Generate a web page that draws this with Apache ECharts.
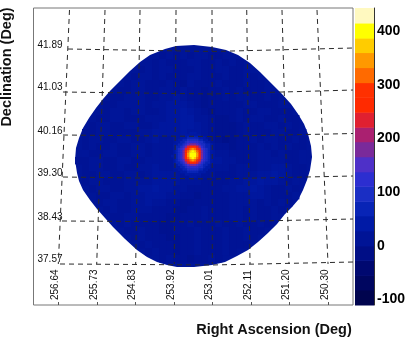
<!DOCTYPE html>
<html>
<head>
<meta charset="utf-8">
<title>Sky map</title>
<style>
html,body{margin:0;padding:0;background:#fff}
#main{width:409px;height:339px;filter:blur(0.5px)}
</style>
<script src="https://cdn.jsdelivr.net/npm/echarts@6/dist/echarts.min.js"></script>
</head>
<body>
<div id="main"></div>
<script>
// colour scale, bottom to top
var bandEdges = [-110,-82,-55,-27,0,28,56,83,111,138,166,194,221,249,277,304,332,360,387,415,443];
var bandColors = ['#00044e','#000660','#000870','#000e86','#001496','#001aa6','#0824b6','#1a2ec4','#2c2ed0','#4e30c8',
	'#7a2a9a','#aa2070','#e02030','#ff2a00','#ff3000','#ff6a00','#ff9900','#ffcc00','#ffff00','#fff9c0'];
var colorTicks = [-100,0,100,200,300,400];

var raTicks = [256.64,255.73,254.83,253.92,253.01,252.11,251.20,250.30];
var decTicks = [41.89,41.03,40.16,39.30,38.43,37.57];

// edge of the exposure region
var discRa = [253.450,253.027,252.698,252.416,252.134,251.899,251.664,251.382,251.170,251.005,250.864,250.770,250.700,250.676,
	250.723,250.794,250.888,251.005,251.146,251.311,251.499,251.711,251.946,252.181,252.439,252.721,253.027,253.450,
	253.850,254.085,254.320,254.555,254.790,255.072,255.354,255.542,255.730,255.895,256.059,256.153,256.200,256.247,
	256.224,256.153,256.059,255.918,255.754,255.589,255.425,255.190,254.955,254.719,254.484,254.132,253.873];
var discDec = [41.971,41.931,41.870,41.769,41.608,41.427,41.226,40.984,40.782,40.581,40.380,40.178,39.937,39.715,
	39.453,39.252,39.050,38.849,38.708,38.567,38.366,38.184,38.003,37.842,37.721,37.600,37.540,37.499,
	37.499,37.540,37.600,37.701,37.842,38.063,38.305,38.486,38.668,38.849,39.050,39.232,39.393,39.655,
	39.896,40.098,40.299,40.500,40.702,40.883,41.044,41.246,41.447,41.628,41.769,41.890,41.951];

// graticule, as drawn (slightly tilted)
var gridRaLines = [
	[[256.377,42.676],[256.640,37.560]],
	[[255.542,42.676],[255.737,37.560]],
	[[254.719,42.676],[254.821,37.560]],
	[[253.873,42.676],[253.913,37.560]],
	[[253.027,42.676],[253.020,37.560]],
	[[252.211,42.676],[252.134,37.560]],
	[[251.382,42.676],[251.217,37.560]],
	[[250.559,42.676],[250.300,37.560]]
];
var gridDecLines = [
	[[256.412,41.890],[253.027,41.840],[249.713,41.910]],
	[[256.530,41.024],[253.027,40.984],[249.713,41.064]],
	[[256.530,40.158],[253.027,40.128],[249.713,40.188]],
	[[256.530,39.312],[253.027,39.272],[249.713,39.332]],
	[[256.553,38.426],[253.027,38.406],[249.713,38.466]],
	[[256.600,37.560],[253.027,37.540],[249.713,37.600]]
];

// background excess, one digit per cell (value = 8*digit-20)
var bgStartRa = 256.247, bgStepRa = 0.16455, bgStartDec = 41.971, bgStepDec = 0.14099;
var bgRows = [
	"",
	"............454545544",
	"...........4544455445454",
	".........4545544454455445",
	"........455454445544454454",
	".......45544454354445444544",
	"......4455445545443445454445",
	".....445554455654434454554454",
	"....44555545566654344444554445",
	"....455455445667654344454455444",
	"...44554445556677554334545544544",
	"..455445544566677654333454455454",
	".44554444556666766543334544455445",
	".45544554456556665543234454554454",
	".45445445545555665554434445454544",
	".54455445545555566665544445545445",
	"445544554455555666666554445555445",
	".45544544556556566655545545566544",
	".44554455456666556554445556676544",
	".4554445555666655544445566766545",
	"..455445566766554444455667654454",
	"...44554556665544344445556654445",
	"...4554455655443344444555545454",
	"....45445554443344544455454454",
	".....445544443344454445545445",
	"......4544443344544454454454",
	".......44544334445444544544",
	"........454443344544454454",
	".........4544434454445444",
	"..........4544344544454",
	"............454434454"
];

// bright source, one band index per cell (base 20), dots keep the background
var spotStartRa = 254.047, spotStepRa = 0.054, spotStartDec = 40.221, spotStepDec = 0.046;
var spotRows = [
	".........555.........",
	".......5555555.......",
	".....55566666555.....",
	"....5566777776655....",
	"...556678888877655...",
	"..5566789aaa9877665..",
	"..56678acdddca87665..",
	"..56789cefgfec98765..",
	"..5678adfhihfda8765..",
	"..5678adgiiigda8765..",
	".55678adgiiigda8765..",
	"..5678adfhihfda8765..",
	"..56789cefgfec98765..",
	"..56678acdddca87665..",
	"...566789aaa987665...",
	"...556678888877655...",
	"....5566777776655....",
	".....55566666555.....",
	".......5555555.......",
	".........555........."
];

function mix(a, b, t) {
	var pa = parseInt(a.slice(1), 16), pb = parseInt(b.slice(1), 16);
	var out = [16, 8, 0].map(function (s) {
		var x = (pa >> s) & 255, y = (pb >> s) & 255;
		return Math.round(x + (y - x) * t);
	});
	return 'rgb(' + out.join(',') + ')';
}
function valueColor(v) {
	var k = (v - bandEdges[0]) / (bandEdges[20] - bandEdges[0]) * 20 - 0.5;
	k = Math.max(0, Math.min(19, k));
	var lo = Math.floor(k), hi = Math.min(19, lo + 1);
	return mix(bandColors[lo], bandColors[hi], k - lo);
}

var bgCells = [];
bgRows.forEach(function (row, r) {
	for (var c = 0; c < row.length; c++) {
		if (row[c] === '.') continue;
		var ra = bgStartRa - c * bgStepRa, dec = bgStartDec - r * bgStepDec;
		bgCells.push([ra, dec, ra - bgStepRa, dec - bgStepDec, 8 * parseInt(row[c], 10) - 20]);
	}
});
var spotCells = [];
spotRows.forEach(function (row, r) {
	for (var c = 0; c < row.length; c++) {
		if (row[c] === '.') continue;
		var k = parseInt(row[c], 20);
		var ra = spotStartRa - c * spotStepRa, dec = spotStartDec - r * spotStepDec;
		spotCells.push([ra, dec, ra - spotStepRa, dec - spotStepDec, (bandEdges[k] + bandEdges[k + 1]) / 2]);
	}
});
var barCells = bandEdges.slice(0, 20).map(function (lo, i) {
	return [0, bandEdges[i + 1], 1, lo, (lo + bandEdges[i + 1]) / 2, i];
});

function cellItem(params, api) {
	var a = api.coord([api.value(0), api.value(1)]);
	var b = api.coord([api.value(2), api.value(3)]);
	return {
		type: 'rect',
		shape: {x: Math.min(a[0], b[0]), y: Math.min(a[1], b[1]), width: Math.abs(b[0] - a[0]) + 0.4, height: Math.abs(b[1] - a[1]) + 0.4},
		style: {fill: valueColor(api.value(4))}
	};
}
function barItem(params, api) {
	var a = api.coord([0, api.value(1)]);
	var b = api.coord([1, api.value(3)]);
	return {
		type: 'rect',
		shape: {x: a[0], y: a[1], width: b[0] - a[0], height: b[1] - a[1] + 0.5},
		style: {fill: bandColors[api.value(5)]}
	};
}
function discItem(params, api) {
	var pts = discRa.map(function (ra, i) { return api.coord([ra, discDec[i]]); });
	return {type: 'polygon', shape: {points: pts}, style: {fill: valueColor(18)}};
}

var lineSeries = gridRaLines.concat(gridDecLines).map(function (pts) {
	return {
		type: 'line', data: pts, symbol: 'none', silent: true, z: 5,
		lineStyle: {color: '#2a2a2a', width: 1, type: [5, 4]}
	};
});

var labelFont = '"Liberation Sans", Arial, sans-serif';
var myChart = echarts.init(document.getElementById('main'), null, {renderer: 'canvas'});
myChart.setOption({
	animation: false,
	backgroundColor: '#fff',
	tooltip: {show: false},
	grid: [
		{left: 33.5, top: 8, width: 319.5, height: 297, show: true, borderColor: '#777', borderWidth: 1, backgroundColor: '#fff'},
		{left: 355, top: 8, width: 19, height: 297, show: false}
	],
	xAxis: [
		{
			type: 'value', gridIndex: 0, inverse: true, min: 249.713, max: 257.223,
			splitLine: {show: false}, axisLine: {show: false},
			axisTick: {show: true, inside: true, length: 3, customValues: raTicks, lineStyle: {color: '#555'}},
			axisLabel: {
				show: true, inside: true, rotate: 90, margin: 5, customValues: raTicks, color: '#111',
				fontFamily: labelFont, fontSize: 10, verticalAlign: 'bottom', lineHeight: 6,
				formatter: function (v) { return v.toFixed(2); }
			}
		},
		{type: 'value', gridIndex: 1, min: 0, max: 1, show: false}
	],
	yAxis: [
		{
			type: 'value', gridIndex: 0, min: 36.734, max: 42.716,
			splitLine: {show: false}, axisLine: {show: false}, axisTick: {show: false},
			axisLabel: {
				show: true, inside: true, margin: 4, customValues: decTicks, color: '#111',
				fontFamily: labelFont, fontSize: 10, verticalAlign: 'bottom', lineHeight: 8,
				formatter: function (v) { return v.toFixed(2); }
			}
		},
		{
			type: 'value', gridIndex: 1, position: 'right', min: -110, max: 443,
			splitLine: {show: false},
			axisLine: {show: true, onZero: false, lineStyle: {color: '#333', width: 1}},
			axisTick: {show: true, inside: true, length: 9, customValues: colorTicks, lineStyle: {color: '#111'}},
			axisLabel: {
				show: true, margin: 3, customValues: colorTicks, color: '#000',
				fontFamily: labelFont, fontWeight: 'bold', fontSize: 14
			}
		}
	],
	series: [
		{type: 'custom', xAxisIndex: 0, yAxisIndex: 0, renderItem: discItem, data: [[253.45, 39.7]], silent: true, z: 2},
		{type: 'custom', xAxisIndex: 0, yAxisIndex: 0, renderItem: cellItem, data: bgCells, silent: true, z: 3},
		{type: 'custom', xAxisIndex: 0, yAxisIndex: 0, renderItem: cellItem, data: spotCells, silent: true, z: 4},
		{type: 'custom', xAxisIndex: 1, yAxisIndex: 1, renderItem: barItem, data: barCells, silent: true, z: 3}
	].concat(lineSeries),
	graphic: [
		{
			type: 'text', x: 7, y: 67, rotation: Math.PI / 2,
			style: {text: 'Declination (Deg)', font: 'bold 14.5px ' + labelFont, fill: '#111', align: 'center', verticalAlign: 'middle'}
		},
		{
			type: 'text', x: 274, y: 330,
			style: {text: 'Right Ascension (Deg)', font: 'bold 14.5px ' + labelFont, fill: '#111', align: 'center', verticalAlign: 'middle'}
		}
	]
});
</script>
</body>
</html>
